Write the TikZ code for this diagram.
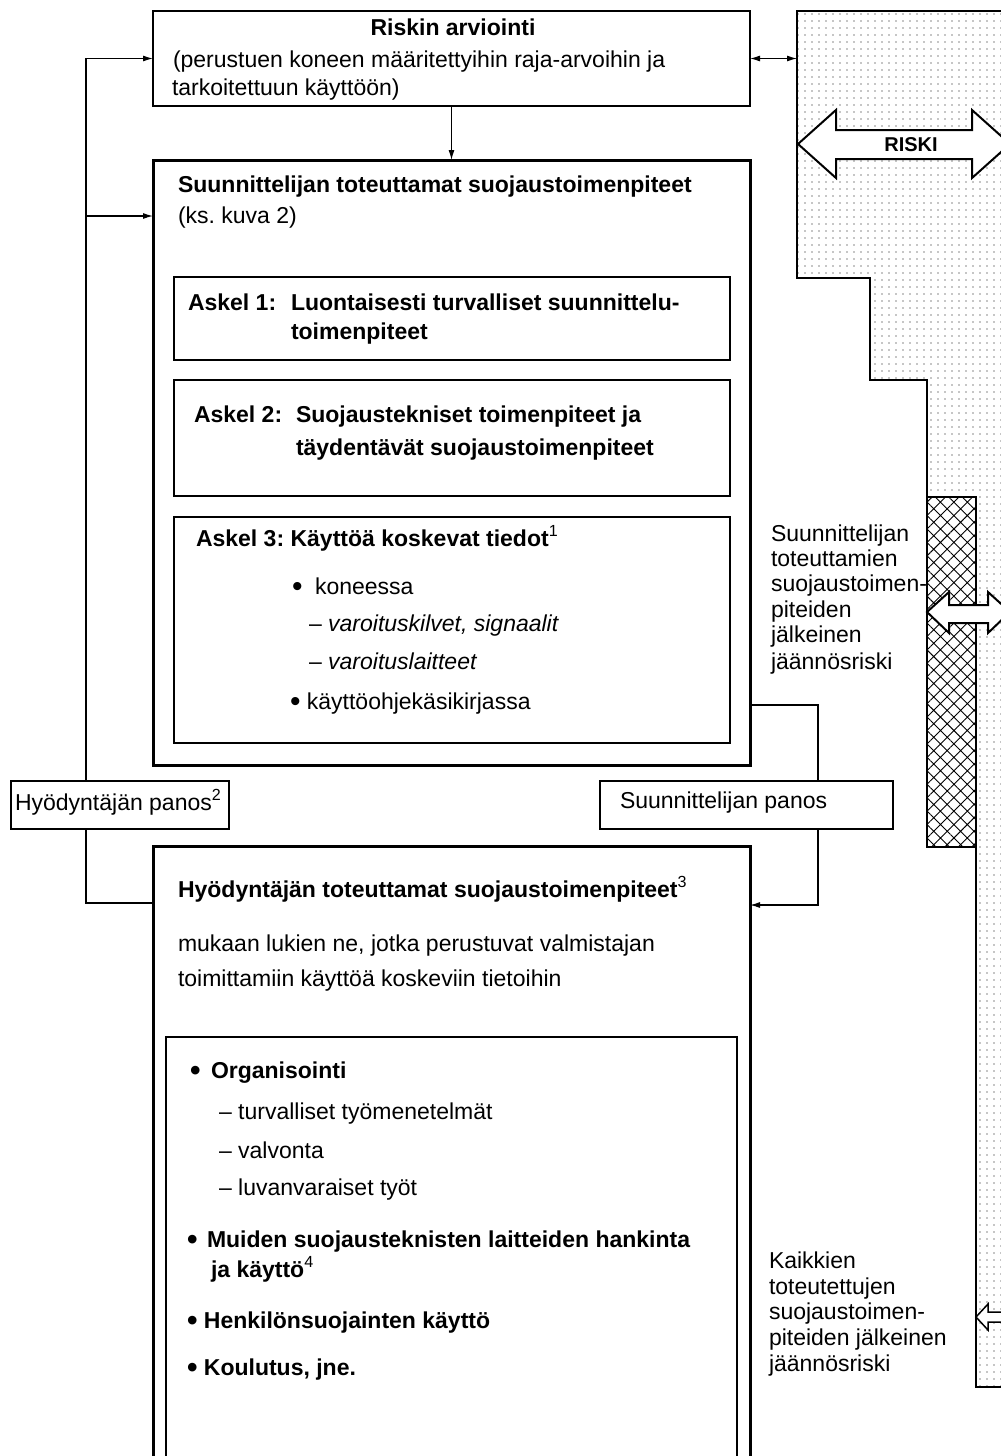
\documentclass[tikz,border=0pt]{standalone}
\usepackage{fontspec}
\setmainfont{Liberation Sans}
\usetikzlibrary{patterns.meta,arrows.meta}
\frenchspacing
\newcommand\fsz{\fontsize{23}{27}\selectfont}
\newcommand\bul{\raisebox{-2.5pt}{\fontsize{30}{30}\selectfont\textbullet}}
\tikzset{
  box/.style={draw, line width=#1, fill=white, rectangle, inner sep=0pt, outer sep=0pt, anchor=north west},
  box/.default=2pt,
  txt/.style={inner sep=0pt, outer sep=0pt, anchor=base west, font=\fsz},
  btxt/.style={txt, font=\fsz\bfseries},
  itxt/.style={txt, font=\fsz\itshape},
  conn/.style={line width=1.1pt},
  tip/.style={-{Latex[length=10pt,width=6pt]}},
  dtip/.style={{Latex[length=10pt,width=6pt]}-{Latex[length=10pt,width=6pt]}},
  fat/.style={draw, fill=white, line width=2pt, line join=miter},
}
\begin{document}
\begin{tikzpicture}[x=1pt,y=-1pt]
\useasboundingbox (0,0) rectangle (1001,1456);
\clip (0,0) rectangle (1001,1456);

% dotted risk region
\path[pattern={Dots[distance=7pt,radius=0.8pt]}, pattern color=black!45]
  (797,11) -- (1030,11) -- (1030,1387) -- (976,1387) -- (976,497) -- (927,497)
  -- (927,380) -- (870,380) -- (870,278) -- (797,278) -- cycle;
\draw[line width=2pt, line join=miter]
  (797,11) -- (1030,11) -- (1030,1387) -- (976,1387) -- (976,497) -- (927,497)
  -- (927,380) -- (870,380) -- (870,278) -- (797,278) -- cycle;
% crosshatched residual risk
\fill[white] (927,497) rectangle (976,847);
\path[pattern={Hatch[angle=45,distance=9.5pt,line width=0.9pt]}, pattern color=black] (927,497) rectangle (976,847);
\draw[line width=2pt] (927,497) rectangle (976,847);

% RISKI arrow
\draw[fat] (798,144) -- (836,110) -- (836,130) -- (972,130) -- (972,110) -- (1010,144)
  -- (972,178) -- (972,159) -- (836,159) -- (836,178) -- cycle;
\node[inner sep=0pt, font=\fontsize{20}{24}\selectfont\bfseries] (riski) at (911,145) {RISKI};
% residual arrow 1
\draw[fat] (927,612) -- (949,592) -- (949,605) -- (988,605) -- (988,592) -- (1010,612)
  -- (988,633) -- (988,623) -- (949,623) -- (949,633) -- cycle;
% residual arrow 2
\draw[fat, line width=1.5pt] (976,1317) -- (988,1304) -- (988,1312) -- (1003,1312) -- (1003,1304) -- (1015,1317)
  -- (1003,1330) -- (1003,1322) -- (988,1322) -- (988,1330) -- cycle;

% main boxes
\node[box=2pt, minimum width=597pt, minimum height=95pt] (risk) at (153,11) {};
\node[box=3pt, minimum width=597pt, minimum height=605pt] (des) at (153,160) {};
\node[box=2pt, minimum width=556pt, minimum height=83pt] (s1) at (174,277) {};
\node[box=2pt, minimum width=556pt, minimum height=116pt] (s2) at (174,380) {};
\node[box=2pt, minimum width=556pt, minimum height=226pt] (s3) at (174,517) {};
\node[box=3pt, minimum width=597pt, minimum height=700pt] (usr) at (153,846) {};
\node[box=2pt, minimum width=571pt, minimum height=500pt] (inn) at (166,1037) {};

% connectors
\coordinate (dz) at (797,58.5);
\coordinate (fb) at (86,903);
\coordinate (fb2) at (86,216);
\coordinate (sa) at (818,705);
\coordinate (sb) at (818,905);
\draw[conn,tip] (usr.west |- fb) -- (fb) |- (risk.west);
\draw[conn,tip] (fb2) -- (des.west |- fb2);
\draw[conn,tip] (risk.south) -- (des.north);
\draw[conn,tip] (des.east |- sa) -- (sa) -- (sb) -- (usr.east |- sb);
\draw[conn,dtip] (risk.east) -- (dz);

% input boxes
\node[box=2pt, minimum width=218pt, minimum height=48pt] (hp) at (11,781) {};
\node[box=2pt, minimum width=293pt, minimum height=48pt] (sp) at (600,781) {};

% texts
\node[btxt, anchor=base] (t1) at (453,35) {Riskin arviointi};
\node[txt] (t2) at (173,67) {(perustuen koneen määritettyihin raja-arvoihin ja};
\node[txt] (t3) at (172,95) {tarkoitettuun käyttöön)};

\node[btxt] (t4) at (178,192) {Suunnittelijan toteuttamat suojaustoimenpiteet};
\node[txt] (t5) at (178,223) {(ks. kuva 2)};

\node[btxt] (t6) at (188,310) {Askel 1:};
\node[btxt] (t7) at (291,310) {Luontaisesti turvalliset suunnittelu-};
\node[btxt] (t8) at (291,339) {toimenpiteet};

\node[btxt] (t9) at (194,422) {Askel 2:};
\node[btxt] (t10) at (296,422) {Suojaustekniset toimenpiteet ja};
\node[btxt] (t11) at (296,455) {täydentävät suojaustoimenpiteet};

\node[btxt] (t12) at (196,546) {Askel 3: Käyttöä koskevat tiedot\textsuperscript{\mdseries 1}};
\node[txt] (t13) at (292,594) {\bul};
\node[txt] (t14) at (315,594) {koneessa};
\node[txt] (t15) at (309,631) {– \textit{varoituskilvet, signaalit}};
\node[txt] (t16) at (309,669) {– \textit{varoituslaitteet}};
\node[txt] (t17) at (290,709) {\bul\ käyttöohjekäsikirjassa};

\node[txt] (t18) at (15,810) {Hyödyntäjän panos\textsuperscript{2}};
\node[txt] (t19) at (620,808) {Suunnittelijan panos};

\node[txt] (t20) at (771,541) {Suunnittelijan};
\node[txt] (t21) at (771,566) {toteuttamien};
\node[txt] (t22) at (771,591) {suojaustoimen-};
\node[txt] (t23) at (771,617) {piteiden};
\node[txt] (t24) at (771,642) {jälkeinen};
\node[txt] (t25) at (771,669) {jäännösriski};

\node[btxt] (t26) at (178,897) {Hyödyntäjän toteuttamat suojaustoimenpiteet\textsuperscript{\mdseries 3}};
\node[txt] (t27) at (178,951) {mukaan lukien ne, jotka perustuvat valmistajan};
\node[txt] (t28) at (178,986) {toimittamiin käyttöä koskeviin tietoihin};

\node[btxt] (t29) at (190,1078) {\bul};
\node[btxt] (t30) at (211,1078) {Organisointi};
\node[txt] (t31) at (219,1119) {– turvalliset työmenetelmät};
\node[txt] (t32) at (219,1158) {– valvonta};
\node[txt] (t33) at (219,1195) {– luvanvaraiset työt};
\node[btxt] (t34) at (187,1247) {\bul};
\node[btxt] (t35) at (207,1247) {Muiden suojausteknisten laitteiden hankinta};
\node[btxt] (t36) at (211,1277) {ja käyttö\textsuperscript{\mdseries 4}};
\node[btxt] (t37) at (187,1328) {\bul\ Henkilönsuojainten käyttö};
\node[btxt] (t38) at (187,1375) {\bul\ Koulutus, jne.};

\node[txt] (t39) at (769,1268) {Kaikkien};
\node[txt] (t40) at (769,1294) {toteutettujen};
\node[txt] (t41) at (769,1319) {suojaustoimen-};
\node[txt] (t42) at (769,1345) {piteiden jälkeinen};
\node[txt] (t43) at (769,1371) {jäännösriski};
\end{tikzpicture}
\end{document}
